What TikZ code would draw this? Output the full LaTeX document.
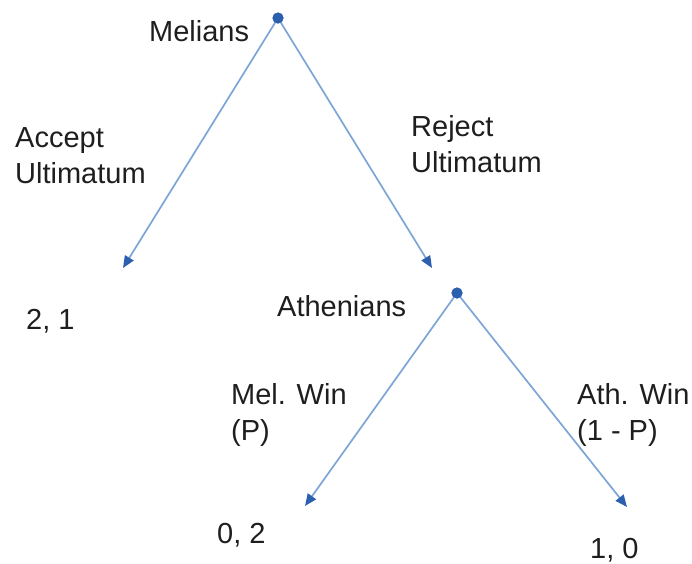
\documentclass[tikz,border=0pt]{standalone}
\usepackage{fontspec}
\setmainfont{Liberation Sans}
\usetikzlibrary{arrows.meta}
\definecolor{edgeblue}{RGB}{125,165,215}
\definecolor{tipblue}{RGB}{45,95,175}
\definecolor{txt}{RGB}{30,30,30}
\begin{document}
\begin{tikzpicture}[x=1pt,y=-1pt,
  lbl/.style={anchor=base west,inner sep=0pt,align=left,text=txt,font=\fontsize{29}{36}\selectfont},
  dotnode/.style={circle,fill=tipblue,inner sep=0pt,minimum size=11pt},
  edge/.style={draw=edgeblue,line width=1.7pt,-{Triangle[length=12pt,width=10pt,color=tipblue]}}]
\useasboundingbox (0,0) rectangle (692,563);
\node[dotnode] (mel) at (278,18) {};
\node[dotnode] (ath) at (457,293) {};
\coordinate (acc) at (123,268);
\coordinate (rej) at (432,268);
\coordinate (mw) at (305,506);
\coordinate (aw) at (627,507);
\draw[edge] (mel.center) -- (acc);
\draw[edge] (mel.center) -- (rej);
\draw[edge] (ath.center) -- (mw);
\draw[edge] (ath.center) -- (aw);
\node[dotnode] at (mel) {};
\node[dotnode] at (ath) {};
\node[lbl] (tmel) at (149,41) {Melians};
\node[lbl] (tacc) at (15,183) {Accept\\Ultimatum};
\node[lbl] (trej) at (411,172) {Reject\\Ultimatum};
\node[lbl] (p21) at (26,329) {2, 1};
\node[lbl] (tath) at (277,316) {Athenians};
\node[lbl] (tmw) at (231,440) {Mel. Win\\(P)};
\node[lbl] (taw) at (577,440) {Ath. Win\\(1 - P)};
\node[lbl] (p02) at (217,543) {0, 2};
\node[lbl] (p10) at (590,558) {1, 0};
\end{tikzpicture}
\end{document}
